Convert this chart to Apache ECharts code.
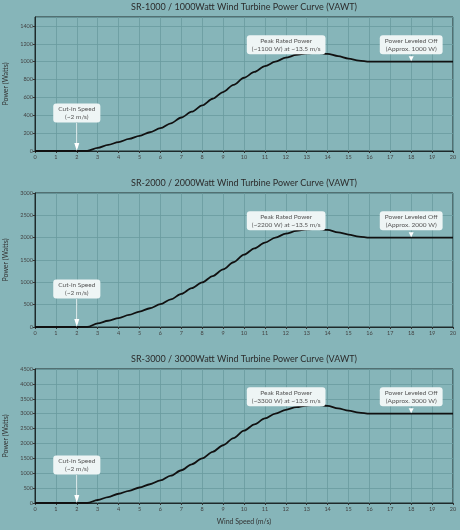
<!DOCTYPE html>
<html>
<head>
<meta charset="utf-8">
<script src="https://cdn.jsdelivr.net/npm/echarts@6/dist/echarts.min.js"></script>
<style>
  html, body { margin: 0; padding: 0; background: #86b5b9; }
  #chart { width: 460px; height: 530px; }
</style>
</head>
<body>
<div id="chart"></div>
<script>
// wind speed samples (m/s)
const windSpeed = [0, 0.5, 1, 1.5, 2, 2.5, 3, 3.5, 4, 4.5, 5, 5.5, 6, 6.5, 7, 7.5, 8, 8.5, 9, 9.5, 10,
  10.5, 11, 11.5, 12, 12.5, 13, 13.5, 14, 14.5, 15, 15.5, 16, 16.5, 17, 17.5, 18, 18.5, 19, 19.5, 20];

// power (W)
const power1000 = [0, 0, 0, 0, 0, 0, 35, 68, 100, 135, 170, 210, 255, 310, 375, 440, 510, 585, 660, 740, 820,
  885, 950, 1000, 1045, 1075, 1092, 1100, 1088, 1062, 1035, 1012, 1000, 1000, 1000, 1000, 1000, 1000, 1000, 1000, 1000];
const power2000 = [0, 0, 0, 0, 0, 0, 80, 140, 200, 270, 345, 420, 510, 620, 740, 870, 1000, 1140, 1290, 1450, 1620,
  1760, 1890, 2000, 2090, 2150, 2185, 2200, 2175, 2120, 2070, 2025, 2000, 2000, 2000, 2000, 2000, 2000, 2000, 2000, 2000];
const power3000 = [0, 0, 0, 0, 0, 0, 100, 200, 310, 410, 520, 630, 760, 920, 1100, 1300, 1500, 1720, 1940, 2180, 2430,
  2640, 2840, 3000, 3130, 3220, 3275, 3300, 3265, 3180, 3100, 3035, 3000, 3000, 3000, 3000, 3000, 3000, 3000, 3000, 3000];

const titles = [
  'SR-1000 / 1000Watt Wind Turbine Power Curve (VAWT)',
  'SR-2000 / 2000Watt Wind Turbine Power Curve (VAWT)',
  'SR-3000 / 3000Watt Wind Turbine Power Curve (VAWT)'
];
const yMax = [1500, 3000, 4500];
const yStep = [200, 500, 500];
const peakPoint = [[13.5, 1100], [13.5, 2200], [13.5, 3300]];
const levelPoint = [[18, 1000], [18, 2000], [18, 3000]];
const peakText = ['Peak Rated Power\n(~1100 W) at ~13.5 m/s', 'Peak Rated Power\n(~2200 W) at ~13.5 m/s', 'Peak Rated Power\n(~3300 W) at ~13.5 m/s'];
const levelText = ['Power Leveled Off\n(Approx. 1000 W)', 'Power Leveled Off\n(Approx. 2000 W)', 'Power Leveled Off\n(Approx. 3000 W)'];
const cutInText = 'Cut-in Speed\n(~2 m/s)';

const FONT = 'Lato';
const gridTops = [17, 193, 369];
const allPower = [power1000, power2000, power3000];

const arrowPath = 'path://M4.3,0 H5.7 V20 H9 L5,28 L1,20 H4.3 Z';
const tipPath = 'path://M1,0 H9 L5,8 Z';

function boxLabel(text, offset) {
  return {
    show: true,
    position: 'inside',
    offset: offset,
    formatter: text,
    fontFamily: FONT,
    fontSize: 6.5,
    lineHeight: 7.5,
    color: '#555',
    align: 'center',
    backgroundColor: '#eef5f5',
    borderRadius: 3,
    padding: [2, 5]
  };
}

const chart = echarts.init(document.getElementById('chart'));

const option = {
  backgroundColor: '#86b5b9',
  animation: false,
  // chart titles, centred over the plot area
  graphic: titles.map((t, i) => ({
    type: 'text',
    x: 244,
    y: gridTops[i] - 10,
    style: {
      text: t, textAlign: 'center', textVerticalAlign: 'middle',
      font: '9px ' + FONT, fill: '#2b2b2b'
    }
  })),
  grid: gridTops.map(t => ({
    left: 35, right: 7, top: t, height: 134,
    outerBoundsMode: 'none', containLabel: false,
    show: true, borderColor: '#1e2a2b', borderWidth: 1, backgroundColor: 'transparent'
  })),
  xAxis: gridTops.map((t, i) => ({
    type: 'value', gridIndex: i, min: 0, max: 20, interval: 1,
    name: i === 2 ? 'Wind Speed (m/s)' : '',
    nameLocation: 'middle', nameGap: 15,
    nameTextStyle: { fontFamily: FONT, fontSize: 7, color: '#333' },
    axisLine: { show: true, lineStyle: { color: '#1e2a2b', width: 1 } },
    axisTick: { show: true, length: 2, lineStyle: { color: '#333' } },
    axisLabel: { fontFamily: FONT, fontSize: 5.5, color: '#444', margin: 3 },
    splitLine: { show: true, lineStyle: { color: '#6a9a9e', width: 0.8 } }
  })),
  yAxis: gridTops.map((t, i) => ({
    type: 'value', gridIndex: i, min: 0, max: yMax[i], interval: yStep[i],
    name: 'Power (Watts)',
    nameLocation: 'middle', nameGap: 20,
    nameTextStyle: { fontFamily: FONT, fontSize: 7, color: '#333' },
    axisLine: { show: true, lineStyle: { color: '#1e2a2b', width: 1 } },
    axisTick: { show: true, length: 2, lineStyle: { color: '#333' } },
    axisLabel: {
      fontFamily: FONT, fontSize: 5.5, color: '#444', margin: 2,
      showMaxLabel: i !== 0,
      formatter: v => String(v)
    },
    splitLine: { show: true, lineStyle: { color: '#6a9a9e', width: 0.8 } }
  })),
  series: allPower.map((p, i) => ({
    type: 'line',
    xAxisIndex: i,
    yAxisIndex: i,
    data: windSpeed.map((w, k) => [w, p[k]]),
    showSymbol: false,
    smooth: 0.3,
    smoothMonotone: 'x',
    lineStyle: { color: '#111', width: 1.8 },
    markPoint: {
      silent: true,
      data: [
        { coord: [2, 0], symbol: arrowPath, symbolSize: [5, 28], symbolOffset: [0, -14],
          itemStyle: { color: '#ffffff' }, label: { show: false } },
        { coord: [2, 0], symbol: 'circle', symbolSize: 1, itemStyle: { color: 'rgba(0,0,0,0)' },
          label: boxLabel(cutInText, [0, -38]) },
        { coord: peakPoint[i], symbol: 'circle', symbolSize: 1, itemStyle: { color: 'rgba(0,0,0,0)' },
          label: boxLabel(peakText[i], [-31, -8]) },
        { coord: levelPoint[i], symbol: tipPath, symbolSize: [5, 5], symbolOffset: [0, -3],
          itemStyle: { color: '#ffffff' }, label: { show: false } },
        { coord: levelPoint[i], symbol: 'circle', symbolSize: 1, itemStyle: { color: 'rgba(0,0,0,0)' },
          label: boxLabel(levelText[i], [0, -17]) }
      ]
    }
  }))
};

chart.setOption(option);
</script>
</body>
</html>
